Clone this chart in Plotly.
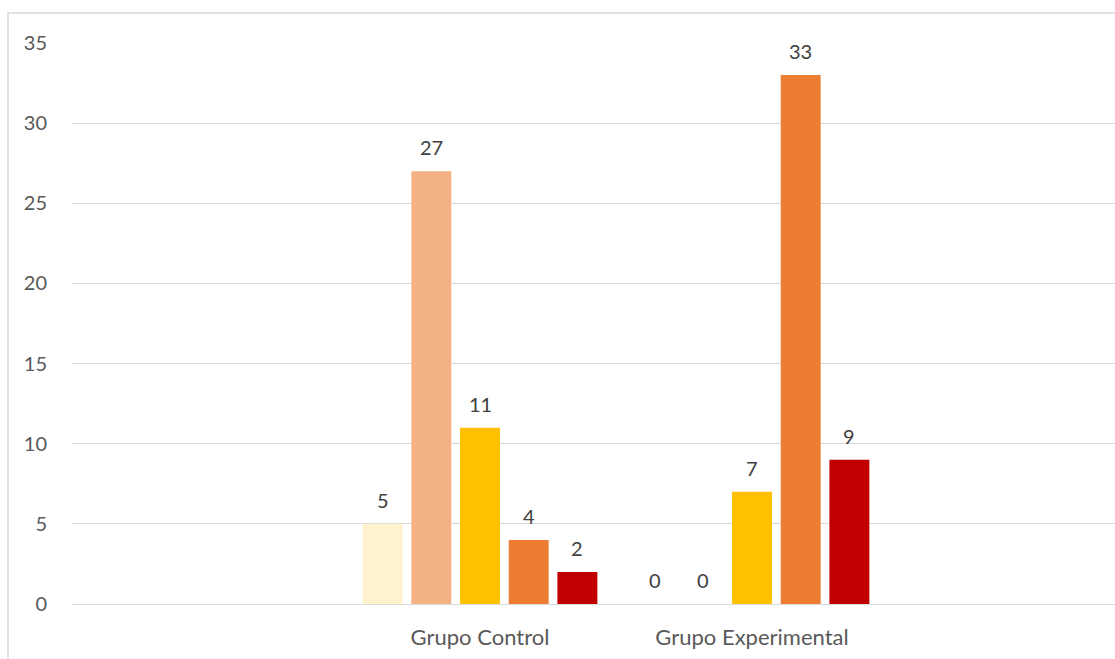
import plotly.graph_objects as go

# Data
categories = ["Grupo Control", "Grupo Experimental"]
series_names = ["Serie 1", "Serie 2", "Serie 3", "Serie 4", "Serie 5"]
series_values = [
    [5, 0],
    [27, 0],
    [11, 7],
    [4, 33],
    [2, 9],
]
series_colors = ["#FFF2CC", "#F4B183", "#FFC000", "#ED7D31", "#C00000"]
y_ticks = [0, 5, 10, 15, 20, 25, 30, 35]

FONT = "Lato, 'Open Sans', sans-serif"
BARGAP = 0.105
BARGROUPGAP = 0.18

fig = go.Figure()
for name, vals, color in zip(series_names, series_values, series_colors):
    fig.add_trace(go.Bar(
        name=name,
        x=categories,
        y=vals,
        marker=dict(color=color, line=dict(width=0)),
    ))

# Value labels above each bar, placed at the bar centres of each group
n = len(series_values)
slot = (1 - BARGAP) / n
for i, vals in enumerate(series_values):
    for j, v in enumerate(vals):
        fig.add_annotation(
            x=j + (i - (n - 1) / 2) * slot,
            y=v,
            xref="x", yref="y",
            text=str(v),
            showarrow=False,
            yanchor="bottom",
            yshift=10,
            font=dict(family=FONT, size=20, color="#404040"),
        )

# Outer chart frame
fig.add_shape(
    type="rect", xref="paper", yref="paper",
    x0=(8 - 72) / 1043, x1=1.2, y0=-0.3, y1=(604 - 13) / 561,
    line=dict(color="#D9D9D9", width=1.5), fillcolor="rgba(0,0,0,0)",
    layer="below",
)

fig.update_layout(
    width=1115, height=659,
    margin=dict(l=72, r=0, t=43, b=55),
    paper_bgcolor="white",
    plot_bgcolor="white",
    barmode="group",
    bargap=BARGAP,
    bargroupgap=BARGROUPGAP,
    showlegend=False,
    font=dict(family=FONT, size=20, color="#595959"),
    xaxis=dict(
        type="category",
        range=[-1.5, -1.5 + 1043 / 272],
        showgrid=False,
        showline=True,
        linecolor="#D9D9D9",
        linewidth=1.3,
        ticks="",
        ticklabelstandoff=13,
        tickfont=dict(family=FONT, size=22, color="#595959"),
        fixedrange=True,
    ),
    yaxis=dict(
        range=[0, 35],
        tickvals=y_ticks,
        showgrid=True,
        gridcolor="#D9D9D9",
        gridwidth=1.3,
        zeroline=False,
        showline=False,
        ticks="",
        ticklabelstandoff=24,
        tickfont=dict(family=FONT, size=20, color="#595959"),
        fixedrange=True,
    ),
)

fig.write_html("out.html")
